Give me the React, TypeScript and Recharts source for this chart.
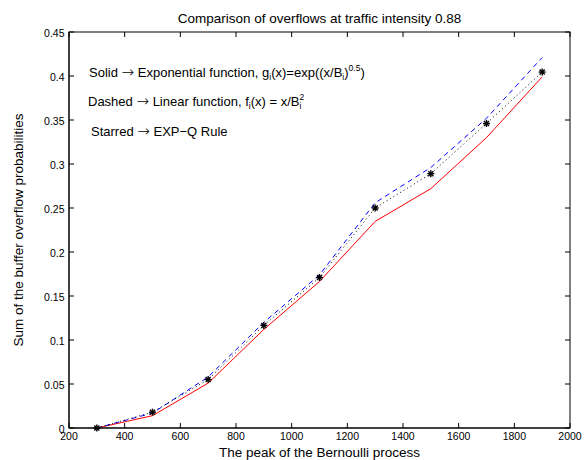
import React from "react";
import { LineChart, Line, XAxis, YAxis } from "recharts";

const peaks = [300, 500, 700, 900, 1100, 1300, 1500, 1700, 1900];
const solidExp = [0, 0.014, 0.051, 0.112, 0.1665, 0.2348, 0.272, 0.33, 0.399];
const dashedLinear = [0, 0.017, 0.058, 0.12, 0.174, 0.256, 0.296, 0.352, 0.421];
const starredExpQ = [0, 0.018, 0.055, 0.1166, 0.171, 0.25, 0.289, 0.346, 0.4045];

const xTicks = [200, 400, 600, 800, 1000, 1200, 1400, 1600, 1800, 2000];
const yTicks = [0, 0.05, 0.1, 0.15, 0.2, 0.25, 0.3, 0.35, 0.4, 0.45];

const data = peaks.map((p, i) => ({
  peak: p,
  solid: solidExp[i],
  dashed: dashedLinear[i],
  starred: starredExpQ[i],
}));

const W = 584;
const H = 460;
const M = { top: 32, right: 14, bottom: 0, left: 0 };
const Y_W = 69;
const X_H = 32;
const plotTop = M.top;
const plotLeft = Y_W;
const plotRight = W - M.right;
const plotBottom = H - X_H;
const FONT = "'Liberation Sans', Arial, Helvetica, sans-serif";
const ARROW_FONT = "'DejaVu Sans', sans-serif";
const TXT = 13.5;
const NOTE = 13;
const SMALL = 8.5;
const TICK = 10.5;

const XTick = (props: any) => {
  const { x, y, payload } = props;
  return (
    <g>
      <line x1={x} x2={x} y1={y} y2={y - 5} stroke="#000" />
      <line x1={x} x2={x} y1={plotTop} y2={plotTop + 5} stroke="#000" />
      <text x={x} y={y + 12} textAnchor="middle" fontSize={TICK} fontFamily={FONT} fill="#000">
        {payload.value}
      </text>
    </g>
  );
};

const YTick = (props: any) => {
  const { x, y, payload } = props;
  return (
    <g>
      <line x1={x} x2={x + 5} y1={y} y2={y} stroke="#000" />
      <line x1={plotRight} x2={plotRight - 5} y1={y} y2={y} stroke="#000" />
      <text x={x - 4.5} y={y + 4.5} textAnchor="end" fontSize={TICK} fontFamily={FONT} fill="#000">
        {String(payload.value)}
      </text>
    </g>
  );
};

const Star = (props: any) => {
  const { cx, cy, index } = props;
  if (cx == null || cy == null) return <g key={index} />;
  const r = 3.5;
  const d = r * 0.72;
  return (
    <g key={index} stroke="#000" strokeWidth={1.4}>
      <line x1={cx - r} x2={cx + r} y1={cy} y2={cy} />
      <line x1={cx} x2={cx} y1={cy - r} y2={cy + r} />
      <line x1={cx - d} x2={cx + d} y1={cy - d} y2={cy + d} />
      <line x1={cx - d} x2={cx + d} y1={cy + d} y2={cy - d} />
    </g>
  );
};

const Arrow = () => (
  <>
    {" "}
    <tspan fontFamily={ARROW_FONT} fontSize={15} fontWeight={200}>
      →
    </tspan>{" "}
  </>
);

export default function App() {
  return (
    <div style={{ position: "absolute", left: 0, top: 0, width: W, height: H, background: "#fff" }}>
      <LineChart width={W} height={H} data={data} margin={M}>
        <XAxis
          dataKey="peak"
          type="number"
          domain={[200, 2000]}
          ticks={xTicks}
          height={X_H}
          tickSize={0}
          tickMargin={0}
          tickLine={false}
          axisLine={{ stroke: "#000" }}
          tick={<XTick />}
          interval={0}
        />
        <YAxis
          type="number"
          domain={[0, 0.45]}
          ticks={yTicks}
          width={Y_W}
          tickSize={0}
          tickMargin={0}
          tickLine={false}
          axisLine={{ stroke: "#000" }}
          tick={<YTick />}
          interval={0}
        />
        <Line dataKey="solid" stroke="#ff0000" strokeWidth={1} dot={false} isAnimationActive={false} />
        <Line
          dataKey="dashed"
          stroke="#0000ff"
          strokeWidth={1}
          strokeDasharray="5 4"
          dot={false}
          isAnimationActive={false}
        />
        <Line
          dataKey="starred"
          stroke="#000"
          strokeWidth={1}
          strokeDasharray="1 3"
          dot={<Star />}
          isAnimationActive={false}
        />
      </LineChart>
      <svg
        width={W}
        height={H}
        style={{ position: "absolute", left: 0, top: 0, pointerEvents: "none" }}
        fontFamily={FONT}
      >
        <rect
          x={plotLeft}
          y={plotTop}
          width={plotRight - plotLeft}
          height={plotBottom - plotTop}
          fill="none"
          stroke="#000"
        />
        <text x={(plotLeft + plotRight) / 2} y={22.5} textAnchor="middle" fontSize={TXT}>
          Comparison of overflows at traffic intensity 0.88
        </text>
        <text x={(plotLeft + plotRight) / 2} y={456.5} textAnchor="middle" fontSize={TXT}>
          The peak of the Bernoulli process
        </text>
        <text
          transform={`translate(23, ${(plotTop + plotBottom) / 2}) rotate(-90)`}
          textAnchor="middle"
          fontSize={TXT}
        >
          Sum of the buffer overflow probabilities
        </text>
        <text x={89} y={77} fontSize={NOTE}>
          Solid
          <Arrow />
          Exponential function, g
          <tspan fontSize={SMALL} dy={3}>i</tspan>
          <tspan dy={-3}>(x)=exp((x/B</tspan>
          <tspan fontSize={SMALL} dy={3}>i</tspan>
          <tspan dy={-3}>)</tspan>
          <tspan fontSize={SMALL} dy={-6}>0.5</tspan>
          <tspan dy={6}>)</tspan>
        </text>
        <text x={88} y={105.5} fontSize={NOTE}>
          Dashed
          <Arrow />
          Linear function, f
          <tspan fontSize={SMALL} dy={3}>i</tspan>
          <tspan dy={-3}>(x) = x/B</tspan>
          <tspan fontSize={SMALL} dy={-6}>2</tspan>
          <tspan fontSize={SMALL} dx={-4.7} dy={9}>i</tspan>
        </text>
        <text x={91} y={135.5} fontSize={NOTE}>
          Starred
          <Arrow />
          EXP−Q Rule
        </text>
      </svg>
    </div>
  );
}
